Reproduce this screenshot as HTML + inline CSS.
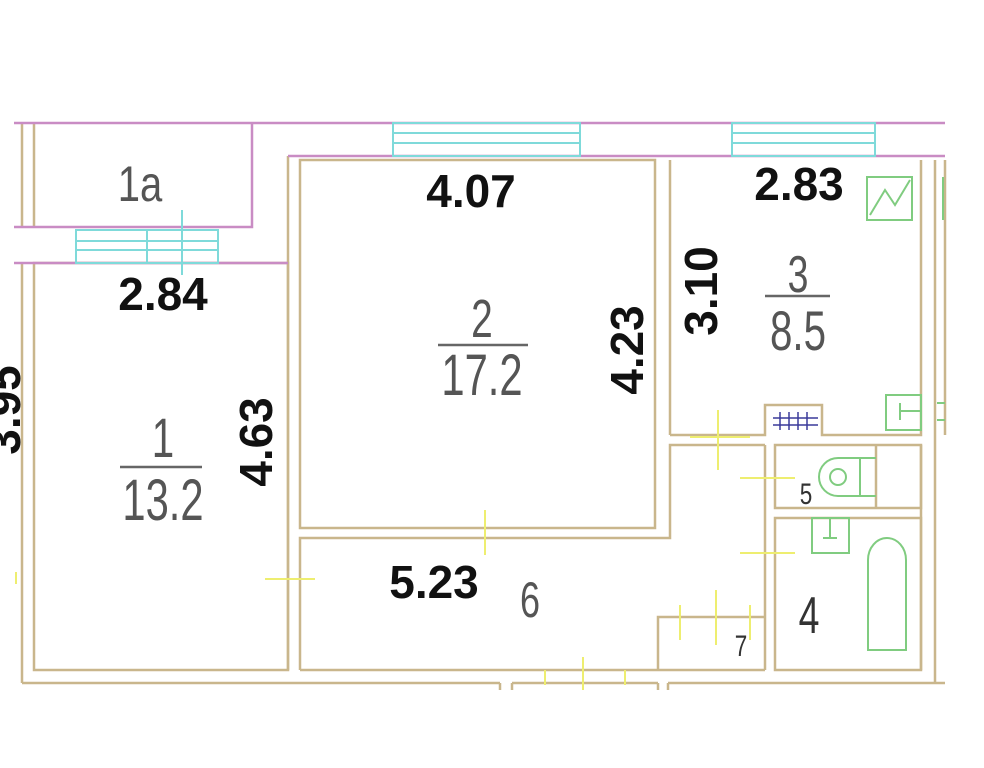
<!DOCTYPE html>
<html><head><meta charset="utf-8"><style>
html,body{margin:0;padding:0;background:#fff;}
svg{display:block;}
.d{font-family:"Liberation Sans",sans-serif;font-weight:bold;fill:#111;}
.r{font-family:"Liberation Sans",sans-serif;font-weight:normal;fill:#555;}
</style></head><body>
<svg width="984" height="768" viewBox="0 0 984 768" xmlns="http://www.w3.org/2000/svg">
<rect width="984" height="768" fill="#fff"/>
<g fill="none" stroke="#c9b68c" stroke-width="2.5">
<line x1="22" y1="123" x2="22" y2="227"/><line x1="34" y1="123" x2="34" y2="227"/>
<line x1="22" y1="263" x2="22" y2="683"/>
<rect x="34" y="263" width="254" height="407"/>
<polyline points="22,683 500,683"/>
<polyline points="512,683 658,683"/>
<polyline points="668,683 945,683"/>
<line x1="500" y1="683" x2="500" y2="690"/><line x1="512" y1="683" x2="512" y2="690"/>
<line x1="658" y1="683" x2="658" y2="690"/><line x1="668" y1="683" x2="668" y2="690"/>
<line x1="288" y1="156" x2="288" y2="670"/>
<rect x="300" y="160" width="355" height="368"/>
<line x1="670" y1="160" x2="670" y2="435"/>
<polyline points="300,670 300,538 670,538 670,445 765,445"/>
<line x1="300" y1="670" x2="765" y2="670"/>
<polyline points="670,435 765,435 765,405 822,405 822,435 921,435 921,160"/>
<line x1="935" y1="160" x2="935" y2="683"/>
<line x1="945" y1="160" x2="945" y2="435"/>
<line x1="765" y1="445" x2="765" y2="670"/>
<rect x="775" y="445" width="146" height="63"/>
<line x1="876" y1="445" x2="876" y2="508"/>
<rect x="775" y="518" width="146" height="152"/>
<line x1="921" y1="445" x2="921" y2="670"/>
<polyline points="658,670 658,617 765,617"/>
</g>
<g stroke="#c98cc4" stroke-width="2.5" fill="none">
<line x1="14" y1="123" x2="945" y2="123"/>
<polyline points="14,227 252,227 252,123"/>
<line x1="14" y1="263" x2="288" y2="263"/>
<line x1="288" y1="156" x2="945" y2="156"/>
</g>
<g stroke="#7fdada" stroke-width="2" fill="none">
<rect x="76" y="230" width="142" height="33"/>
<line x1="76" y1="241" x2="218" y2="241"/><line x1="76" y1="250" x2="218" y2="250"/>
<line x1="147" y1="230" x2="147" y2="263"/><line x1="182" y1="210" x2="182" y2="275"/>
<rect x="393" y="123" width="187" height="33"/>
<line x1="393" y1="133" x2="580" y2="133"/><line x1="393" y1="143" x2="580" y2="143"/>
<rect x="732" y="123" width="143" height="33"/>
<line x1="732" y1="133" x2="875" y2="133"/><line x1="732" y1="143" x2="875" y2="143"/>
</g>
<g stroke="#eeee70" stroke-width="2">
<line x1="690" y1="437" x2="750" y2="437"/><line x1="718" y1="410" x2="718" y2="470"/>
<line x1="740" y1="478" x2="795" y2="478"/><line x1="740" y1="553" x2="795" y2="553"/>
<line x1="485" y1="510" x2="485" y2="555"/><line x1="265" y1="579" x2="315" y2="579"/>
<line x1="680" y1="605" x2="680" y2="640"/><line x1="716" y1="590" x2="716" y2="645"/><line x1="750" y1="605" x2="750" y2="640"/>
<line x1="583" y1="657" x2="583" y2="690"/><line x1="545" y1="670" x2="545" y2="685"/><line x1="625" y1="670" x2="625" y2="685"/>
<line x1="16" y1="572" x2="16" y2="584"/>
</g>
<g stroke="#80cc80" stroke-width="2" fill="none">
<rect x="867" y="177" width="45" height="43"/>
<polyline points="870,215 885,190 895,205 910,180"/>
<line x1="943" y1="177" x2="943" y2="220"/>
<rect x="886" y="395" width="35" height="35"/><line x1="900" y1="403" x2="900" y2="420"/><line x1="900" y1="411" x2="921" y2="411"/>
<line x1="937" y1="403" x2="945" y2="403"/><line x1="937" y1="420" x2="945" y2="420"/>
<path d="M876,458 H838 A15,15 0 0 0 838,496 H876"/>
<line x1="860" y1="458" x2="860" y2="496"/>
<circle cx="838" cy="477" r="8"/>
<rect x="812" y="518" width="37" height="35"/><line x1="830" y1="518" x2="830" y2="538"/><line x1="823" y1="538" x2="837" y2="538"/>
<path d="M868,650 V560 A19,22 0 0 1 906,560 V650 Z"/>
</g>
<g stroke="#3a3a9a" stroke-width="1.5">
<line x1="773" y1="418" x2="818" y2="418"/><line x1="773" y1="425" x2="818" y2="425"/>
<line x1="780" y1="412" x2="780" y2="430"/><line x1="789" y1="412" x2="789" y2="430"/><line x1="798" y1="412" x2="798" y2="430"/><line x1="807" y1="412" x2="807" y2="430"/>
</g>
<g class="r" text-anchor="middle">
<text x="140" y="201" font-size="50" transform="translate(140 0) scale(0.8 1) translate(-140 0)">1a</text>
<text x="482" y="337" font-size="54" transform="translate(482 0) scale(0.72 1) translate(-482 0)">2</text>
<text x="482" y="395" font-size="58" transform="translate(482 0) scale(0.72 1) translate(-482 0)">17.2</text>
<text x="798" y="292" font-size="52" transform="translate(798 0) scale(0.72 1) translate(-798 0)">3</text>
<text x="798" y="350" font-size="56" transform="translate(798 0) scale(0.72 1) translate(-798 0)">8.5</text>
<text x="163" y="457" font-size="56" transform="translate(163 0) scale(0.72 1) translate(-163 0)">1</text>
<text x="163" y="520" font-size="58" transform="translate(163 0) scale(0.72 1) translate(-163 0)">13.2</text>
<text x="530" y="617" font-size="50" transform="translate(530 0) scale(0.72 1) translate(-530 0)">6</text>
<text x="741" y="656" font-size="30" fill="#333" transform="translate(741 0) scale(0.75 1) translate(-741 0)">7</text>
<text x="806" y="504" font-size="30" fill="#333" transform="translate(806 0) scale(0.75 1) translate(-806 0)">5</text>
<text x="809" y="633" font-size="52" fill="#333" transform="translate(809 0) scale(0.72 1) translate(-809 0)">4</text>
</g>
<g stroke="#666" stroke-width="2.5">
<line x1="438" y1="345" x2="528" y2="345"/>
<line x1="765" y1="296" x2="830" y2="296"/>
<line x1="120" y1="467" x2="202" y2="467"/>
</g>
<g class="d" text-anchor="middle" font-size="46">
<text x="471" y="207">4.07</text>
<text x="163" y="310">2.84</text>
<text x="799" y="200">2.83</text>
<text x="434" y="598">5.23</text>
<text transform="translate(643 350) rotate(-90)">4.23</text>
<text transform="translate(717 291) rotate(-90)">3.10</text>
<text transform="translate(272 442) rotate(-90)">4.63</text>
<text transform="translate(20 410) rotate(-90)">3.95</text>
</g>
</svg>
</body></html>
